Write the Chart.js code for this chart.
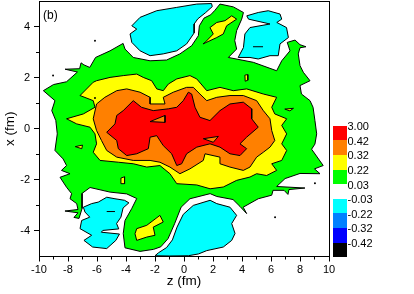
<!DOCTYPE html>
<html>
<head>
<meta charset="utf-8">
<title>Contour (b)</title>
<script src="https://cdn.jsdelivr.net/npm/chart.js@4.4.0/dist/chart.umd.min.js"></script>
<style>
  body { margin: 0; background: #fff; }
  #wrap { position: relative; width: 414px; height: 294px; font-family: "Liberation Sans", Arial, sans-serif; color: #000; }
  #plot { position: absolute; left: 0; top: 0; }
  .panel-tag { position: absolute; left: 43px; top: 8px; font-size: 12px; line-height: 14px; }
  .cbox { position: absolute; left: 333px; width: 14px; }
  .clabel { position: absolute; left: 347.5px; font-size: 11px; line-height: 13px; white-space: nowrap; }
</style>
</head>
<body>
<div id="wrap">
  <canvas id="plot" width="414" height="294"></canvas>
  <div class="panel-tag">(b)</div>
  <div id="colorbar"></div>
</div>
<script>
/* ---------- levels / colour scale ---------- */
const levelLabels = ['3.00', '0.42', '0.32', '0.22', '0.03', '-0.03', '-0.22', '-0.32', '-0.42'];
const levelColors = ['#ff0000', '#ff8000', '#ffff00', '#00ff00', '#ffffff', '#00ffff', '#0080ff', '#0000ff', '#000000'];
const RED = 0, ORANGE = 1, YELLOW = 2, GREEN = 3, CYAN = 5;

/* ---------- axes ---------- */
const zTicks = [-10, -8, -6, -4, -2, 0, 2, 4, 6, 8, 10];
const zMinorTicks = [-9, -7, -5, -3, -1, 1, 3, 5, 7, 9];
const xTicks = [-4, -2, 0, 2, 4];
const xMinorTicks = [-3, -1, 1, 3];

/* ---------- contour regions, [z, x] in fm ---------- */
const greenRegion = [
  [-9.7,1.49],[-9.0,1.73],[-8.1,1.84],[-7.35,2.22],[-8.2,2.33],[-7.2,2.35],[-7.1,2.58],[-6.9,2.5],
  [-6.5,2.4],[-6.1,2.79],[-5.1,3.05],[-4.2,3.34],[-4.07,3.12],[-3.5,2.79],[-2.34,2.66],[-1.2,2.69],
  [-0.28,2.93],[0.53,3.25],[0.99,3.64],[1.06,4.03],[1.38,4.33],[1.84,4.46],[2.14,4.64],[2.48,4.88],
  [3.4,4.77],[4.1,4.55],[3.98,4.29],[3.63,3.84],[3.5,3.45],[3.63,3.12],[3.06,2.79],[4.78,2.6],
  [6.39,2.27],[6.74,2.66],[7.31,3.05],[7.12,3.38],[7.66,3.47],[8.0,3.29],[8.41,3.21],[8.0,3.17],
  [7.88,2.93],[8.0,2.47],[8.23,2.21],[8.69,1.88],[8.0,1.69],[8.1,1.36],[8.69,1.1],[8.9,0.84],
  [9.03,0.32],[9.15,-0.2],[9.03,-0.6],[8.8,-0.8],[9.6,-1.44],[9.0,-1.57],[9.38,-1.76],[8.0,-1.75],
  [6.97,-1.95],[6.39,-2.26],[8.34,-2.32],[7.24,-2.38],[7.17,-2.57],[6.9,-2.41],[6.14,-2.41],[6.05,-2.6],
  [5.12,-2.74],[4.08,-3.07],[4.32,-3.32],[3.86,-3.04],[3.38,-2.77],[2.26,-2.65],[1.8,-2.54],[0.41,-2.74],
  [-0.2,-3.07],[-0.65,-3.72],[-1.1,-4.3],[-1.6,-4.62],[-2.1,-4.72],[-3.03,-4.8],[-4.07,-4.66],[-4.19,-4.1],
  [-4.07,-3.59],[-3.61,-3.13],[-3.26,-2.73],[-3.95,-2.55],[-5.1,-2.48],[-6.48,-2.3],[-7.03,-2.53],[-7.03,-3.12],
  [-7.24,-3.51],[-7.59,-3.47],[-7.31,-3.29],[-8.21,-3.22],[-7.31,-3.16],[-7.4,-2.93],[-7.86,-2.74],[-7.75,-2.54],
  [-8.1,-2.29],[-8.55,-1.9],[-7.86,-1.76],[-8.45,-1.63],[-8.1,-1.44],[-8.34,-1.18],[-8.9,-0.85],[-8.74,-0.2],
  [-8.84,0.32],[-9.12,0.71],[-8.9,1.1],[-9.7,1.49]
];

const yellowRegion = [
  [-6.26,1.82],[-6.03,1.88],[-5.1,2.01],[-4.19,2.08],[-3.26,2.14],[-2.81,2.01],[-2.23,1.88],[-1.88,1.56],
  [-1.43,1.49],[-1.08,1.75],[-0.5,1.95],[0.41,2.08],[0.88,1.95],[1.57,1.49],[2.48,1.62],[3.4,1.49],
  [4.32,1.56],[5.47,1.36],[6.39,1.23],[6.05,0.84],[6.26,0.58],[7.08,0.39],[6.74,0.13],[7.08,-0.2],
  [6.74,-0.59],[7.08,-0.85],[6.74,-1.24],[6.05,-1.37],[6.39,-1.63],[5.7,-1.83],[5.01,-1.76],[4.55,-1.89],
  [3.63,-2.02],[2.71,-2.28],[1.8,-2.35],[0.88,-2.2],[-0.5,-2.15],[-0.97,-1.76],[-1.66,-1.44],[-2.57,-1.5],
  [-3.5,-1.37],[-4.53,-1.31],[-5.79,-1.24],[-6.26,-0.92],[-6.03,-0.59],[-6.14,-0.2],[-6.48,0.06],[-7.4,0.19],
  [-8.1,0.39],[-6.94,0.58],[-6.14,0.84],[-6.26,1.1],[-7.17,1.3],[-6.26,1.82]
];

const orangeRegion = [
  [-6.03,0.97],[-5.46,1.23],[-4.64,1.49],[-3.95,1.56],[-3.03,1.43],[-2.34,1.23],[-2.34,0.97],[-1.31,0.97],
  [-1.43,1.23],[-0.74,1.43],[0.18,1.62],[0.64,1.62],[1.1,1.36],[1.57,1.1],[2.26,1.23],[3.17,1.3],
  [4.09,1.3],[5.01,1.1],[5.47,0.71],[5.93,0.39],[6.05,-0.07],[6.26,-0.46],[5.93,-0.72],[5.47,-0.92],
  [5.01,-1.11],[4.55,-1.5],[4.09,-1.63],[3.17,-1.5],[2.48,-1.37],[2.48,-1.11],[1.45,-0.98],[1.33,-1.24],
  [0.41,-1.57],[-0.28,-1.76],[-0.97,-1.5],[-1.66,-1.31],[-2.34,-1.24],[-3.5,-1.24],[-4.64,-1.11],[-5.33,-0.85],
  [-5.69,-0.46],[-6.03,-0.07],[-6.26,0.39],[-6.03,0.97]
];

const redRegion = [
  [-5.33,-0.14],[-4.76,0.19],[-4.64,0.52],[-4.19,0.71],[-3.5,1.1],[-2.93,0.84],[-2.12,0.71],[-1.08,0.78],
  [-0.5,0.84],[-0.05,1.1],[0.3,1.43],[0.53,1.36],[0.76,0.84],[1.1,0.45],[1.79,0.32],[2.48,0.71],
  [3.17,0.97],[4.09,1.04],[4.67,0.78],[4.67,0.39],[5.12,0.06],[4.32,-0.33],[3.86,-0.59],[4.32,-0.78],
  [3.86,-1.05],[3.17,-0.98],[2.48,-0.72],[1.79,-0.59],[0.88,-0.72],[0.18,-0.98],[-0.16,-1.37],[-0.5,-1.44],
  [-0.85,-0.98],[-1.43,-0.66],[-1.88,-0.27],[-2.34,-0.33],[-2.46,-0.78],[-3.26,-0.98],[-3.95,-1.05],[-4.53,-0.78],
  [-4.64,-0.46],[-5.33,-0.14]
];

const redHoles = [
  [[-2.34,0.28],[-1.31,0.52],[-1.31,0.25],[-2.34,0.28]],
  [[1.33,-0.39],[2.37,-0.3],[2.02,-0.53],[1.33,-0.39]]
];

const yellowIslands = [
  [[1.45,3.38],[2.02,3.71],[1.79,3.96],[2.26,4.16],[2.83,4.23],[3.29,4.42],[3.63,4.29],[2.94,4.03],
   [2.71,3.71],[2.26,3.57],[1.31,3.32],[1.45,3.38]],
  [[-3.26,-3.91],[-2.57,-3.78],[-1.66,-3.39],[-1.43,-3.65],[-2.12,-3.85],[-2.0,-4.17],[-2.57,-4.24],
   [-3.26,-4.37],[-3.38,-4.11],[-3.26,-3.91]],
  [[4.2,2.1],[4.4,2.12],[4.4,1.9],[4.22,1.86],[4.2,2.1]],
  [[6.95,0.77],[7.55,0.8],[7.3,0.7],[6.95,0.77]],
  [[-4.35,-1.93],[-4.1,-1.88],[-4.1,-2.15],[-4.35,-2.15],[-4.35,-1.93]],
  [[-7.5,-0.7],[-7.0,-0.64],[-7.05,-0.78],[-7.5,-0.7]]
];

const cyanRegions = [
  [[-3.6,4.03],[-3.03,4.36],[-1.88,4.62],[-0.5,4.75],[0.88,4.88],[1.9,4.9],[1.95,4.78],[1.5,4.55],
   [0.95,4.3],[0.7,4.1],[0.7,3.75],[0.18,3.32],[-0.5,3.05],[-1.43,2.93],[-2.34,2.86],[-3.03,3.05],
   [-3.6,3.38],[-3.72,3.71],[-3.26,3.9],[-3.6,4.03]],
  [[4.33,4.42],[5.12,4.55],[5.81,4.62],[6.62,4.49],[6.74,4.29],[6.4,4.16],[7.07,3.96],[7.2,3.57],
   [6.62,3.32],[6.5,2.86],[5.93,2.86],[5.12,2.73],[4.55,2.79],[3.74,2.79],[4.1,3.18],[4.2,3.71],
   [4.55,3.96],[5.93,4.1],[4.45,4.29],[4.33,4.42]],
  [[-6.94,-3.07],[-6.37,-2.93],[-5.91,-2.87],[-5.33,-2.68],[-4.76,-2.74],[-4.1,-2.8],[-3.8,-2.9],[-4.2,-3.1],
   [-4.35,-3.46],[-4.65,-3.71],[-4.5,-3.92],[-5.6,-3.98],[-5.7,-4.05],[-4.45,-4.12],[-4.7,-4.37],[-5.33,-4.69],
   [-6.3,-4.63],[-6.9,-4.37],[-6.37,-4.17],[-7.17,-3.91],[-7.06,-3.59],[-6.5,-3.46],[-6.83,-3.26],[-6.94,-3.07]],
  [[-2.0,-4.97],[-1.75,-4.85],[-1.2,-4.65],[-0.8,-4.35],[-0.48,-3.85],[-0.05,-3.35],[0.64,-3.0],[1.8,-2.8],
   [2.26,-2.93],[3.17,-3.07],[3.63,-3.39],[3.29,-3.71],[3.52,-4.1],[3.29,-4.37],[2.71,-4.63],[1.57,-4.77],
   [1.0,-4.9],[0.3,-4.97],[-1.0,-4.98],[-2.0,-4.97]]
];

// degenerate contour bits
const zeroDashes = [
  [[-5.33,-3.24],[-4.76,-3.24]],
  [[4.76,3.21],[5.45,3.21]]
];
const zeroDots = [[-9.03,2.08],[-6.14,3.44],[-6.14,1.2],[9.03,-2.13],[6.28,-3.46]];

/* ---------- datasets ---------- */
function toPoints(poly) {
  return poly.map(([z, x]) => ({ x: z, y: x }));
}

function region(poly, level) {
  return {
    data: toPoints(poly),
    showLine: true,
    fill: 'shape',
    backgroundColor: levelColors[level],
    borderColor: '#000',
    borderWidth: 1,
    pointRadius: 0,
    tension: 0
  };
}

const datasets = [
  region(greenRegion, GREEN),
  region(yellowRegion, YELLOW),
  region(orangeRegion, ORANGE),
  region(redRegion, RED),
  ...redHoles.map(p => region(p, ORANGE)),
  ...yellowIslands.map(p => region(p, YELLOW)),
  ...cyanRegions.map(p => region(p, CYAN)),
  ...zeroDashes.map(p => ({ data: toPoints(p), showLine: true, fill: false, borderColor: '#000', borderWidth: 1, pointRadius: 0 })),
  { data: toPoints(zeroDots), showLine: false, pointRadius: 1, pointBackgroundColor: '#000', pointBorderWidth: 0 }
];
// later datasets on top
datasets.forEach((d, i) => { d.order = -i; });

/* ---------- chart ---------- */
Chart.defaults.font.family = '"Liberation Sans", Arial, sans-serif';
Chart.defaults.color = '#000';

const tickFont = { size: 11 };
const titleFont = { size: 13.5 };

// fixed axis box sizes, no label overhang padding
function fixBox(size) {
  return s => {
    if (s.isHorizontal()) s.height = size; else s.width = size;
    s.paddingTop = s.paddingBottom = s.paddingLeft = s.paddingRight = 0;
  };
}

new Chart(document.getElementById('plot'), {
  type: 'scatter',
  data: { datasets },
  options: {
    responsive: false,
    animation: false,
    events: [],
    layout: { autoPadding: false, padding: { top: 1, right: 85, bottom: 0, left: 0 } },
    plugins: { legend: { display: false }, tooltip: { enabled: false } },
    scales: {
      x: {
        type: 'linear', position: 'bottom', min: -10, max: 10, weight: 1,
        afterBuildTicks: s => { s.ticks = zTicks.map(v => ({ value: v })); },
        afterFit: fixBox(37.5),
        ticks: { font: tickFont, padding: 2, maxRotation: 0, autoSkip: false, callback: v => String(v) },
        grid: { drawOnChartArea: false, tickLength: 5, tickColor: '#000' },
        border: { color: '#000', width: 1 },
        title: { display: true, text: 'z (fm)', font: titleFont, padding: { top: 0, bottom: 5 } }
      },
      xMinor: {
        type: 'linear', position: 'bottom', min: -10, max: 10, weight: 0,
        afterBuildTicks: s => { s.ticks = zMinorTicks.map(v => ({ value: v })); },
        afterFit: fixBox(0),
        ticks: { display: false },
        grid: { drawOnChartArea: false, tickLength: 3, tickColor: '#000' },
        border: { color: '#000', width: 1 }
      },
      xTop: {
        type: 'linear', position: 'top', min: -10, max: 10,
        afterFit: fixBox(0),
        ticks: { display: false },
        grid: { display: false },
        border: { color: '#000', width: 1 }
      },
      y: {
        type: 'linear', position: 'left', min: -5, max: 5, weight: 1,
        afterBuildTicks: s => { s.ticks = xTicks.map(v => ({ value: v })); },
        afterFit: fixBox(39),
        ticks: { font: tickFont, padding: 4, callback: v => String(v) },
        grid: { drawOnChartArea: false, tickLength: 5, tickColor: '#000' },
        border: { color: '#000', width: 1 },
        title: { display: true, text: 'x (fm)', font: titleFont, padding: { top: 2, bottom: 0 } }
      },
      yMinor: {
        type: 'linear', position: 'left', min: -5, max: 5, weight: 0,
        afterBuildTicks: s => { s.ticks = xMinorTicks.map(v => ({ value: v })); },
        afterFit: fixBox(0),
        ticks: { display: false },
        grid: { drawOnChartArea: false, tickLength: 3, tickColor: '#000' },
        border: { color: '#000', width: 1 }
      },
      yRight: {
        type: 'linear', position: 'right', min: -5, max: 5,
        afterFit: fixBox(0),
        ticks: { display: false },
        grid: { display: false },
        border: { color: '#000', width: 1 }
      }
    }
  }
});

/* ---------- colour bar ---------- */
const bar = document.getElementById('colorbar');
const barTop = 125.7, barStep = 14.6;
levelColors.forEach((c, i) => {
  const top = Math.round(barTop + i * barStep);
  const next = Math.round(barTop + (i + 1) * barStep);
  const box = document.createElement('div');
  box.className = 'cbox';
  box.style.top = top + 'px';
  box.style.height = (next - top) + 'px';
  box.style.background = c;
  bar.appendChild(box);

  const lab = document.createElement('div');
  lab.className = 'clabel';
  lab.style.top = (barTop + i * barStep + 1 - 6.5) + 'px';
  lab.textContent = levelLabels[i];
  bar.appendChild(lab);
});
</script>
</body>
</html>
